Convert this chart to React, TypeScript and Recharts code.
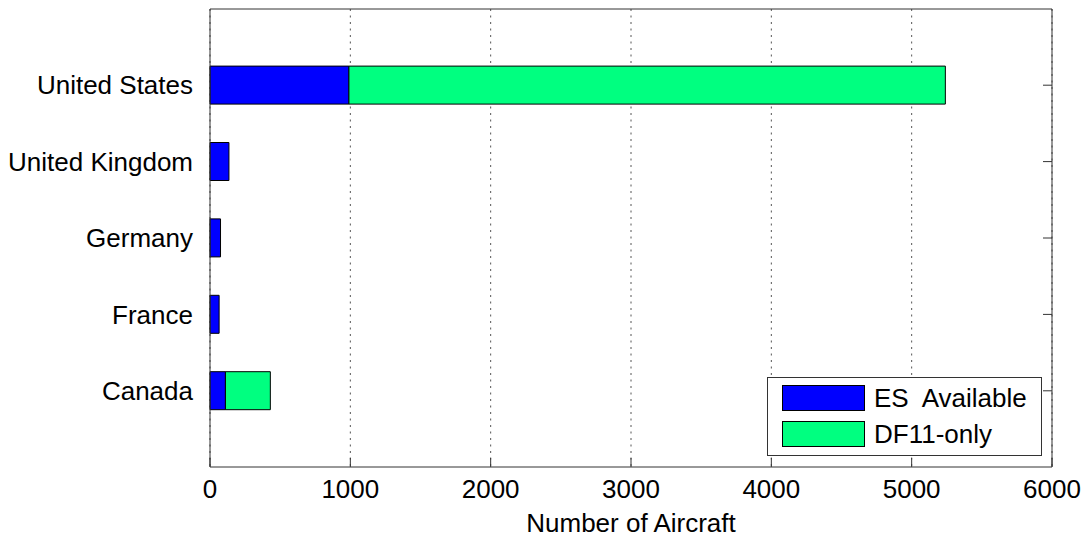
import { Bar, BarChart, CartesianGrid, Legend, XAxis, YAxis } from "recharts";

const countries = ["United States", "United Kingdom", "Germany", "France", "Canada"];
const esAvailable = [990, 135, 75, 65, 110];
const df11Only = [4250, 0, 0, 0, 320];
const xTicks = [0, 1000, 2000, 3000, 4000, 5000, 6000];
const seriesNames = ["ES  Available", "DF11-only"];

const data = countries.map((country, i) => ({
  country,
  es: esAvailable[i],
  df11: df11Only[i],
}));

const FONT = '"Liberation Sans", Arial, sans-serif';
const AXIS = "#333333";

const LegendBox = ({ payload }: any) => {
  // stacked bars in vertical layout come back reversed, keep the matlab order
  const items = [...(payload || [])].sort(
    (a: any, b: any) => seriesNames.indexOf(a.value) - seriesNames.indexOf(b.value)
  );
  return (
    <div
      style={{
        border: `1px solid ${AXIS}`,
        background: "#fff",
        width: 273,
        height: 70,
        boxSizing: "content-box",
        paddingTop: 7,
        fontFamily: FONT,
        fontSize: 26,
        lineHeight: "26px",
        color: "#000",
      }}
    >
      {items.map((item: any, i: number) => (
        <div
          key={item.value}
          style={{ display: "flex", alignItems: "center", height: 26, marginTop: i === 0 ? 0 : 10 }}
        >
          <span
            style={{
              display: "inline-block",
              marginLeft: 14,
              width: 81,
              height: 24,
              background: item.color,
              border: "1px solid #000",
            }}
          />
          <span style={{ marginLeft: 9, whiteSpace: "pre" }}>{item.value}</span>
        </div>
      ))}
    </div>
  );
};

const noTick = () => <g />;

export default function App() {
  return (
    <div style={{ position: "absolute", left: 0, top: 0, background: "#fff" }}>
      <BarChart
        width={1087}
        height={538}
        data={data}
        layout="vertical"
        barCategoryGap="25%"
        margin={{ top: 8, right: 34, bottom: 0, left: 0 }}
        style={{ fontFamily: FONT }}
      >
        <CartesianGrid horizontal={false} stroke="#555" strokeDasharray="2 4.5" />
        <XAxis
          type="number"
          domain={[0, 6000]}
          ticks={xTicks}
          interval={0}
          height={71}
          stroke={AXIS}
          tickSize={-9}
          tickMargin={22}
          tick={{ fontSize: 26, fill: "#000" }}
          label={{
            value: "Number of Aircraft",
            position: "insideBottom",
            offset: 6,
            fontSize: 26,
            fill: "#000",
          }}
        />
        <XAxis
          xAxisId="top"
          orientation="top"
          type="number"
          domain={[0, 6000]}
          ticks={xTicks}
          interval={0}
          height={1}
          stroke={AXIS}
          tickSize={-8}
          tick={noTick}
        />
        <YAxis
          type="category"
          dataKey="country"
          width={210}
          padding={{ top: 38, bottom: 38 }}
          stroke={AXIS}
          tickLine={false}
          tickSize={0}
          tickMargin={17}
          tick={{ fontSize: 26, fill: "#000" }}
        />
        <YAxis
          yAxisId="right"
          orientation="right"
          type="category"
          dataKey="country"
          width={1}
          padding={{ top: 38, bottom: 38 }}
          stroke={AXIS}
          tickSize={-9}
          tick={noTick}
        />
        <Legend
          layout="vertical"
          verticalAlign="middle"
          align="center"
          content={<LegendBox />}
          wrapperStyle={{ left: 767, top: 377, width: 275, height: 79 }}
        />
        <Bar
          dataKey="es"
          name={seriesNames[0]}
          stackId="a"
          fill="#0000ff"
          stroke="#000"
          strokeWidth={1}
          isAnimationActive={false}
        />
        <Bar
          dataKey="df11"
          name={seriesNames[1]}
          stackId="a"
          fill="#00ff80"
          stroke="#000"
          strokeWidth={1}
          isAnimationActive={false}
        />
      </BarChart>
    </div>
  );
}
